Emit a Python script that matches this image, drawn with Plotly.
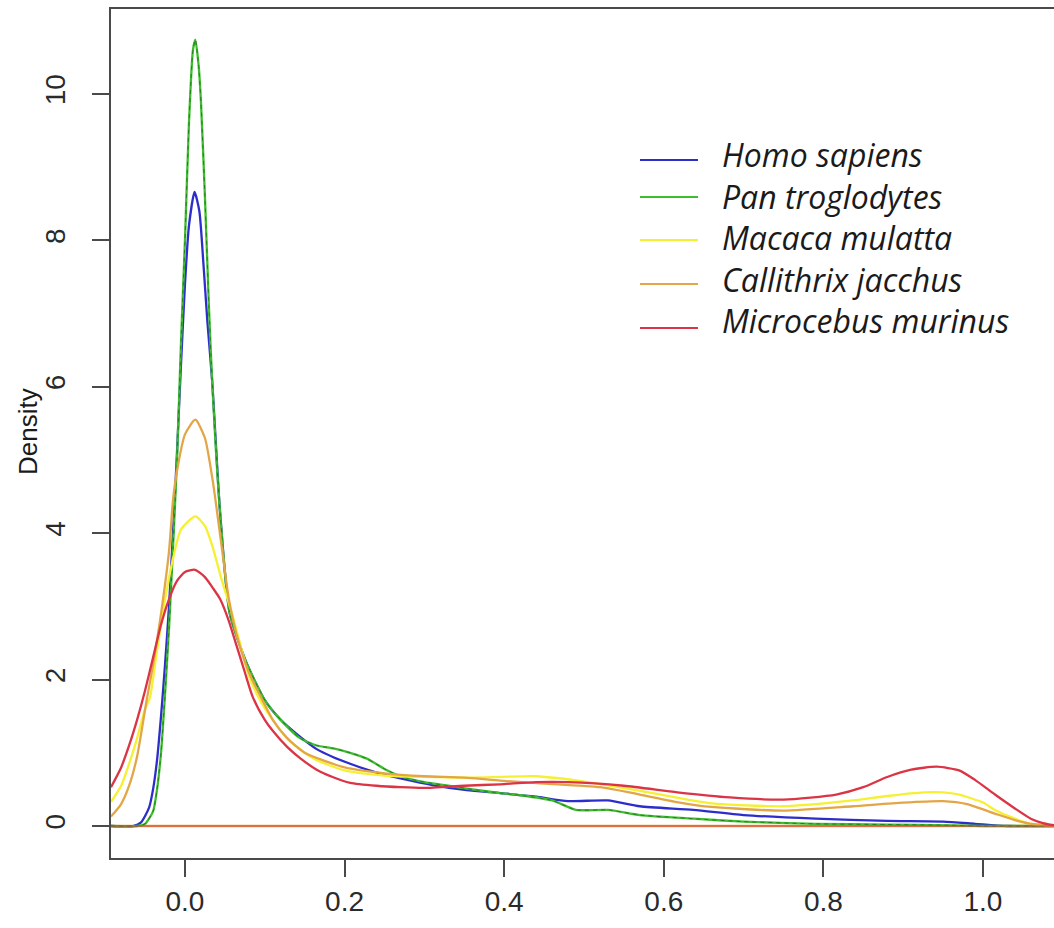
import plotly.graph_objects as go

# ---------------- data ----------------
species = ["Homo sapiens", "Pan troglodytes", "Macaca mulatta",
           "Callithrix jacchus", "Microcebus murinus"]
colors = ["#2D2DCC", "#3DBE2E", "#F5F032", "#E3A646", "#DB3445"]

homo_x = [-0.0927, -0.065, -0.055, -0.045, -0.04, -0.035, -0.03, -0.025, -0.02, -0.015, -0.01,
          -0.005, 0.0, 0.005, 0.012, 0.018, 0.023, 0.028, 0.034, 0.044, 0.056, 0.077, 0.1,
          0.12, 0.144, 0.165, 0.186, 0.207, 0.228, 0.25, 0.27, 0.31, 0.353, 0.395, 0.44,
          0.48, 0.53, 0.57, 0.637, 0.70, 0.79, 0.88, 0.95, 0.99, 1.03, 1.089]
homo_y = [0.0, 0.0, 0.05, 0.25, 0.5, 0.9, 1.5, 2.2, 3.0, 4.0, 5.1,
          6.3, 7.4, 8.2, 8.66, 8.4, 7.7, 6.9, 6.09, 4.28, 2.91, 2.23, 1.72,
          1.45, 1.22, 1.05, 0.94, 0.85, 0.77, 0.70, 0.65, 0.56, 0.49, 0.45, 0.40,
          0.34, 0.35, 0.27, 0.22, 0.15, 0.10, 0.07, 0.06, 0.03, 0.0, 0.0]

pan_x = [-0.0927, -0.06, -0.05, -0.04, -0.035, -0.03, -0.025, -0.02, -0.015, -0.01, -0.005,
         0.0, 0.005, 0.01, 0.013, 0.017, 0.02, 0.025, 0.03, 0.034, 0.044, 0.056, 0.077,
         0.1, 0.12, 0.144, 0.165, 0.186, 0.207, 0.228, 0.25, 0.27, 0.3, 0.33, 0.36, 0.395,
         0.42, 0.46, 0.49, 0.53, 0.57, 0.637, 0.70, 0.79, 0.88, 0.96, 1.0, 1.089]
pan_y = [0.0, 0.0, 0.03, 0.2, 0.5, 1.0, 1.8, 2.7, 3.8, 5.0, 6.6,
         8.0, 9.6, 10.6, 10.74, 10.4, 9.9, 8.6, 7.1, 6.09, 4.28, 2.91, 2.23,
         1.72, 1.45, 1.2, 1.1, 1.06, 1.0, 0.92, 0.78, 0.68, 0.60, 0.55, 0.50, 0.45,
         0.42, 0.35, 0.22, 0.22, 0.15, 0.10, 0.06, 0.03, 0.02, 0.01, 0.0, 0.0]

mac_x = [-0.0927, -0.08, -0.07, -0.06, -0.05, -0.044, -0.035, -0.025, -0.015, -0.005, 0.013,
         0.025, 0.035, 0.045, 0.059, 0.07, 0.08, 0.094, 0.11, 0.128, 0.15, 0.165, 0.2, 0.25,
         0.3, 0.35, 0.395, 0.44, 0.505, 0.57, 0.62, 0.66, 0.75, 0.837, 0.88, 0.926, 0.95,
         0.97, 1.0, 1.015, 1.04, 1.06, 1.089]
mac_y = [0.33, 0.55, 0.85, 1.2, 1.6, 1.75, 2.4, 3.09, 3.65, 4.05, 4.23,
         4.1, 3.8, 3.4, 2.9, 2.45, 2.05, 1.72, 1.45, 1.2, 1.0, 0.9, 0.76, 0.69,
         0.67, 0.66, 0.67, 0.68, 0.60, 0.48, 0.38, 0.31, 0.27, 0.35, 0.41, 0.46, 0.46,
         0.43, 0.32, 0.22, 0.10, 0.03, 0.005]

cal_x = [-0.0927, -0.08, -0.07, -0.06, -0.048, -0.04, -0.03, -0.02, -0.015, -0.01, 0.0, 0.013,
         0.025, 0.035, 0.045, 0.055, 0.065, 0.08, 0.097, 0.11, 0.128, 0.15, 0.2, 0.25,
         0.3, 0.35, 0.395, 0.45, 0.52, 0.57, 0.62, 0.66, 0.75, 0.837, 0.9, 0.95, 0.98,
         1.015, 1.04, 1.06, 1.089]
cal_y = [0.13, 0.3, 0.55, 0.95, 1.72, 2.2, 2.9, 3.75, 4.45, 4.85, 5.35, 5.55,
         5.3, 4.7, 3.9, 3.1, 2.6, 2.1, 1.72, 1.45, 1.2, 1.0, 0.8, 0.72,
         0.68, 0.66, 0.62, 0.58, 0.53, 0.43, 0.32, 0.26, 0.21, 0.27, 0.32, 0.34, 0.30,
         0.17, 0.08, 0.03, 0.005]

mic_x = [-0.0927, -0.08, -0.07, -0.06, -0.05, -0.04, -0.03, -0.02, -0.01, 0.0, 0.0125,
         0.025, 0.035, 0.044, 0.055, 0.065, 0.075, 0.085, 0.1, 0.11, 0.128, 0.145, 0.165,
         0.185, 0.207, 0.24, 0.27, 0.3, 0.35, 0.395, 0.44, 0.48, 0.55, 0.617, 0.683, 0.75,
         0.816, 0.85, 0.88, 0.91, 0.942, 0.97, 0.99, 1.015, 1.04, 1.06, 1.075, 1.089]
mic_y = [0.53, 0.8, 1.1, 1.45, 1.85, 2.3, 2.75, 3.1, 3.35, 3.47, 3.5,
         3.4, 3.25, 3.1, 2.8, 2.45, 2.1, 1.76, 1.45, 1.3, 1.08, 0.92, 0.77,
         0.67, 0.59, 0.55, 0.53, 0.52, 0.55, 0.57, 0.60, 0.60, 0.55, 0.46, 0.39, 0.36,
         0.43, 0.53, 0.67, 0.77, 0.81, 0.76, 0.63, 0.43, 0.24, 0.10, 0.04, 0.01]

series_x = [homo_x, pan_x, mac_x, cal_x, mic_x]
series_y = [homo_y, pan_y, mac_y, cal_y, mic_y]

x_ticks = [0.0, 0.2, 0.4, 0.6, 0.8, 1.0]
x_tick_labels = ["0.0", "0.2", "0.4", "0.6", "0.8", "1.0"]
y_ticks = [0, 2, 4, 6, 8, 10]
y_tick_labels = ["0", "2", "4", "6", "8", "10"]
x_range = [-0.0927, 1.089]
y_range = [-0.437, 11.16]
y_title = "Density"

# ---------------- figure ----------------
W, H = 1054, 928
ML, MR, MT, MB = 111, 0, 9, 70
fig = go.Figure()

# zero baseline drawn by the density plots
fig.add_trace(go.Scatter(x=x_range, y=[0, 0], mode="lines",
                         line=dict(color=colors[3], width=2.5),
                         showlegend=False, hoverinfo="skip"))

for i, (name, xs, ys) in enumerate(zip(species, series_x, series_y)):
    fig.add_trace(go.Scatter(x=xs, y=ys, mode="lines", name=name,
                             line=dict(color=colors[i], width=2.3,
                                       shape="spline", smoothing=0.6),
                             showlegend=False))
    if i == 1:
        fig.add_trace(go.Scatter(x=xs, y=ys, mode="lines",
                                 line=dict(color="#2A7A22", width=1,
                                           dash="4px,4px",
                                           shape="spline", smoothing=0.6),
                                 showlegend=False, hoverinfo="skip"))

fig.add_trace(go.Scatter(x=x_range, y=[0, 0], mode="lines",
                         line=dict(color=colors[4], width=1.2),
                         showlegend=False, hoverinfo="skip"))

axis_color = "#4a4a4a"
tick_font = dict(family="Liberation Sans, Arial, sans-serif", size=28, color="#2a2a2a")

fig.update_xaxes(range=x_range, tickvals=x_ticks, ticktext=x_tick_labels,
                 showgrid=False, zeroline=False, showline=True, mirror=True,
                 linecolor=axis_color, linewidth=2,
                 ticks="outside", ticklen=17, tickwidth=2, tickcolor=axis_color,
                 tickfont=tick_font, ticklabelstandoff=0)
fig.update_yaxes(range=y_range, tickvals=y_ticks, ticktext=y_tick_labels,
                 showgrid=False, zeroline=False, showline=True, mirror=False,
                 linecolor=axis_color, linewidth=2,
                 ticks="outside", ticklen=17, tickwidth=2, tickcolor=axis_color,
                 tickangle=-90, tickfont=tick_font, ticklabelstandoff=16)

pw = W - ML - MR
ph = H - MT - MB
def px_x(p):
    return (p - ML) / pw
def px_y(p):
    return 1 - (p - MT) / ph

annotations = [dict(text=y_title, xref="paper", yref="paper",
                    x=px_x(28), y=px_y(432), showarrow=False, textangle=-90,
                    xanchor="center", yanchor="middle",
                    font=dict(family="Liberation Sans, Arial, sans-serif",
                              size=26, color="#1a1a1a"))]
# legend: one block of italic names beside short coloured keys
legend_text = "<br>".join("<i>" + s + "</i>" for s in species)
annotations.append(dict(text=legend_text, xref="paper", yref="paper",
                        x=px_x(720), y=px_y(237), align="left",
                        xanchor="left", yanchor="middle", showarrow=False,
                        font=dict(family="Open Sans, Lato, sans-serif",
                                  size=32, color="#1a1a1a")))
shapes = []
legend_line_y = [160, 197, 240, 284, 328]
for i, name in enumerate(species):
    shapes.append(dict(type="line", xref="paper", yref="paper",
                       x0=px_x(640), x1=px_x(698),
                       y0=px_y(legend_line_y[i]), y1=px_y(legend_line_y[i]),
                       line=dict(color=colors[i], width=1.8)))

fig.update_layout(width=W, height=H,
                  margin=dict(l=ML, r=MR, t=MT, b=MB, pad=0),
                  paper_bgcolor="white", plot_bgcolor="white",
                  showlegend=False, annotations=annotations, shapes=shapes)

fig.write_html("out.html", config={"displayModeBar": False},
               post_script="document.body.style.margin='0';")
